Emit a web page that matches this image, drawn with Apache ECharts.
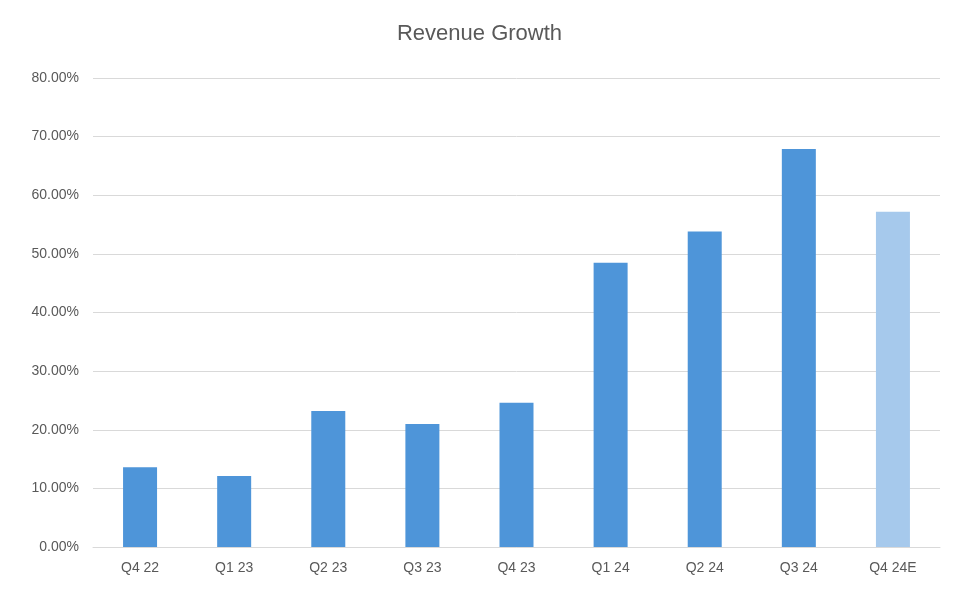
<!DOCTYPE html>
<html><head><meta charset="utf-8">
<script src="https://cdn.jsdelivr.net/npm/echarts@6/dist/echarts.min.js"></script>
<style>html,body{margin:0;padding:0;background:#fff}#c{width:959px;height:594px}</style>
</head><body><div id="c"></div>
<script>
const categories=["Q4 22","Q1 23","Q2 23","Q3 23","Q4 23","Q1 24","Q2 24","Q3 24","Q4 24E"];
const values=[13.6,12.1,23.2,21.0,24.6,48.5,53.8,67.9,57.2];
const estimateFlags=[0,0,0,0,0,0,0,0,1];
const chart=echarts.init(document.getElementById('c'));
chart.setOption({
  animation:false,
  title:{text:'Revenue Growth',left:'center',top:18,textStyle:{fontFamily:'Liberation Sans, Arial',fontSize:22,fontWeight:'normal',color:'#595959'}},
  grid:{left:93,right:19,top:78,bottom:47},
  xAxis:{type:'category',data:categories,axisTick:{show:false},axisLine:{lineStyle:{color:'#d9d9d9'}},
    axisLabel:{color:'#595959',fontSize:14,margin:14,fontFamily:'Liberation Sans, Arial'}},
  yAxis:{type:'value',min:0,max:80,interval:10,axisLabel:{formatter:v=>v.toFixed(2)+'%',color:'#595959',fontSize:14,margin:14,fontFamily:'Liberation Sans, Arial'},
    splitLine:{lineStyle:{color:'#d9d9d9'}}},
  series:[{type:'bar',barWidth:34,data:values.map((v,i)=>({value:v,itemStyle:{color:estimateFlags[i]?'#a6c9ec':'#4e95d9'}}))}]
});
</script></body></html>
